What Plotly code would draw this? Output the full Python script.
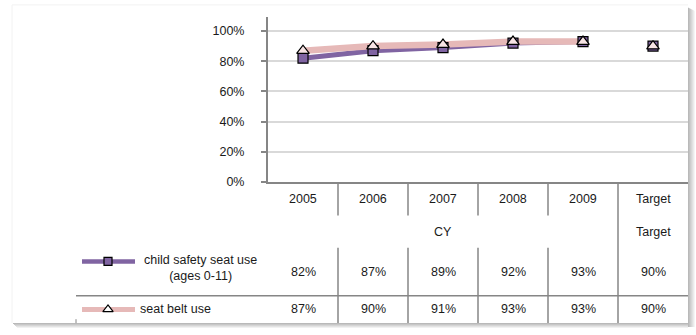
import plotly.graph_objects as go

# ---- data ----
categories = ["2005", "2006", "2007", "2008", "2009", "Target"]
group_labels = ["CY", "Target"]
child_seat = [0.82, 0.87, 0.89, 0.92, 0.93, 0.90]
seat_belt = [0.87, 0.90, 0.91, 0.93, 0.93, 0.90]
series_names = ["child safety seat use<br>(ages 0-11)", "seat belt use"]
y_ticks = [0, 0.2, 0.4, 0.6, 0.8, 1.0]

W, H = 696, 335


def px(x):
    return x / W


def py(y):
    return 1 - y / H


PURPLE = "#8064A2"
PINK = "#E6B9B8"
TRI_FILL = "#F7E4E4"
GRID = "#D9D9D9"
AX = "#868686"
FONT = "Liberation Sans"
FS = 12.5
TXT = "#1a1a1a"

idx = list(range(len(categories)))
n_years = 5

fig = go.Figure()
# lines (years only)
fig.add_trace(go.Scatter(x=idx[:n_years], y=child_seat[:n_years], mode="lines",
                         line=dict(color=PURPLE, width=5), hoverinfo="skip"))
fig.add_trace(go.Scatter(x=idx[:n_years], y=seat_belt[:n_years], mode="lines",
                         line=dict(color=PINK, width=6.5), hoverinfo="skip"))
# markers (all categories)
fig.add_trace(go.Scatter(x=idx, y=child_seat, mode="markers",
                         marker=dict(symbol="square", size=10, color=PURPLE,
                                     line=dict(color="black", width=1.2))))
fig.add_trace(go.Scatter(x=idx, y=seat_belt, mode="markers",
                         marker=dict(symbol="triangle-up", size=11, color=TRI_FILL,
                                     line=dict(color="black", width=1.2))))

# legend keys in the data table (pixel overlay axis)
fig.add_trace(go.Scatter(x=[108], y=[267], mode="markers", xaxis="x2", yaxis="y2",
                         marker=dict(symbol="square", size=8, color=PURPLE,
                                     line=dict(color="black", width=1.2))))
fig.add_trace(go.Scatter(x=[108], y=[316], mode="markers", xaxis="x2", yaxis="y2",
                         marker=dict(symbol="triangle-up", size=9, color="white",
                                     line=dict(color="black", width=1.2))))

shapes = []
# shadow on right and bottom
for k in range(7):
    op = 0.55 * (1 - k / 7)
    shapes.append(dict(type="rect", xref="paper", yref="paper",
                       x0=px(688 + k), x1=px(689 + k), y0=py(334), y1=py(8 + k * 0.5),
                       fillcolor="#7f7f7f", opacity=op, line=dict(width=0), layer="below"))
for k in range(5):
    op = 0.55 * (1 - k / 5)
    shapes.append(dict(type="rect", xref="paper", yref="paper",
                       x0=px(13 + k), x1=px(688), y0=py(330 + k), y1=py(331 + k),
                       fillcolor="#7f7f7f", opacity=op, line=dict(width=0), layer="below"))
# faint frame top/left
shapes.append(dict(type="line", xref="paper", yref="paper", x0=px(12), x1=px(688),
                   y0=py(5), y1=py(5), line=dict(color="#F2F2F2", width=1), layer="below"))
shapes.append(dict(type="line", xref="paper", yref="paper", x0=px(12), x1=px(12),
                   y0=py(5), y1=py(330), line=dict(color="#F2F2F2", width=1), layer="below"))

# table grid lines
for i in range(len(categories) - 1):
    b = i + 0.5
    if i == n_years - 1:
        shapes.append(dict(type="line", xref="x", yref="paper", x0=b, x1=b,
                           y0=py(186), y1=py(330), line=dict(color=AX, width=1.5)))
    else:
        shapes.append(dict(type="line", xref="x", yref="paper", x0=b, x1=b,
                           y0=py(186), y1=py(220), line=dict(color=AX, width=1.5)))
        shapes.append(dict(type="line", xref="x", yref="paper", x0=b, x1=b,
                           y0=py(253), y1=py(330), line=dict(color=AX, width=1.5)))
shapes.append(dict(type="line", xref="paper", yref="paper", x0=px(76), x1=px(688),
                   y0=py(302), y1=py(302), line=dict(color=AX, width=1.5)))
shapes.append(dict(type="line", xref="paper", yref="paper", x0=px(76), x1=px(76),
                   y0=py(326), y1=py(330), line=dict(color=AX, width=1)))
# legend key lines (below the key markers)
shapes.append(dict(type="line", xref="paper", yref="paper", x0=px(82), x1=px(135),
                   y0=py(267), y1=py(267), line=dict(color=PURPLE, width=4.5), layer="below"))
shapes.append(dict(type="line", xref="paper", yref="paper", x0=px(82), x1=px(135),
                   y0=py(316), y1=py(316), line=dict(color=PINK, width=5), layer="below"))

ann = []
f = dict(family=FONT, size=FS, color=TXT)
C = dict(showarrow=False, font=f, xanchor="center", yanchor="middle")
for i, c in enumerate(categories):
    ann.append(dict(x=i, xref="x", y=py(203), yref="paper", text=c, **C))
ann.append(dict(x=(n_years - 1) / 2, xref="x", y=py(237), yref="paper", text=group_labels[0], **C))
ann.append(dict(x=n_years, xref="x", y=py(237), yref="paper", text=group_labels[1], **C))
for row_y, vals in ((278, child_seat), (316, seat_belt)):
    for i, v in enumerate(vals):
        ann.append(dict(x=i, xref="x", y=py(row_y), yref="paper", text=f"{v:.0%}", **C))
ann.append(dict(x=px(200), xref="paper", y=py(273.5), yref="paper", text=series_names[0],
                align="center", **C))
ann.append(dict(x=px(138), xref="paper", xanchor="left", y=py(315.5), yref="paper",
                yanchor="middle", text=series_names[1], showarrow=False, font=f))

fig.update_layout(
    width=W, height=H, margin=dict(l=0, r=0, t=0, b=0),
    paper_bgcolor="white", plot_bgcolor="rgba(0,0,0,0)", showlegend=False,
    font=dict(family=FONT, size=FS, color=TXT),
    xaxis=dict(domain=[px(268), px(688)], range=[-0.5, len(categories) - 0.5],
               showticklabels=False, showgrid=False, zeroline=False, ticks="",
               showline=True, linecolor=AX, linewidth=2, fixedrange=True),
    yaxis=dict(domain=[py(186), py(17)], range=[0, 1.095], tickvals=y_ticks,
               tickformat=".0%", showgrid=True, gridcolor=GRID, gridwidth=1.5,
               zeroline=False, showline=True, linecolor=AX, linewidth=2,
               ticks="outside", ticklen=5, tickcolor=AX, tickwidth=1.5,
               ticklabelstandoff=14, fixedrange=True),
    xaxis2=dict(domain=[0, 1], range=[0, W], visible=False, anchor="y2", fixedrange=True),
    yaxis2=dict(domain=[0, 1], range=[H, 0], visible=False, anchor="x2", fixedrange=True),
    shapes=shapes, annotations=ann,
)

page_css = (
    "var s=document.createElement('style');"
    "s.textContent='html,body{margin:0;padding:0;overflow:hidden;}';"
    "document.head.appendChild(s);"
)
fig.write_html("out.html", config={"displayModeBar": False}, post_script=page_css)
